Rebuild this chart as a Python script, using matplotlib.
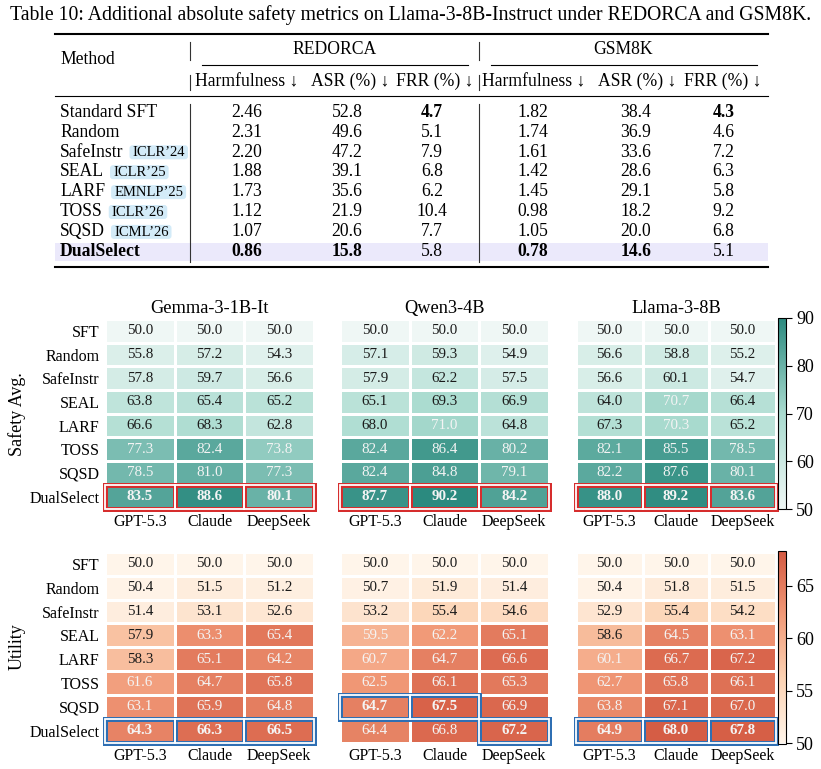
import numpy as np
import matplotlib
matplotlib.use("Agg")
import matplotlib.pyplot as plt
from matplotlib.colors import LinearSegmentedColormap
from matplotlib.patches import Rectangle, FancyBboxPatch

plt.rcParams['font.family'] = ['Liberation Serif', 'DejaVu Serif']

W, H = 821, 769

# ---------------- table data ----------------
table_caption = ("Table 10: Additional absolute safety metrics on Llama-3-8B-Instruct "
                 "under REDORCA and GSM8K.")
table_methods = ["Standard SFT", "Random", "SafeInstr", "SEAL", "LARF", "TOSS", "SQSD", "DualSelect"]
table_venues = ["", "", "ICLR’24", "ICLR’25", "EMNLP’25", "ICLR’26", "ICML’26", ""]
table_groups = ["REDORCA", "GSM8K"]
table_metrics = ["Harmfulness ↓", "ASR (%) ↓", "FRR (%) ↓"]
redorca_harm = [2.46, 2.31, 2.20, 1.88, 1.73, 1.12, 1.07, 0.86]
redorca_asr = [52.8, 49.6, 47.2, 39.1, 35.6, 21.9, 20.6, 15.8]
redorca_frr = [4.7, 5.1, 7.9, 6.8, 6.2, 10.4, 7.7, 5.8]
gsm_harm = [1.82, 1.74, 1.61, 1.42, 1.45, 0.98, 1.05, 0.78]
gsm_asr = [38.4, 36.9, 33.6, 28.6, 29.1, 18.2, 20.0, 14.6]
gsm_frr = [4.3, 4.6, 7.2, 6.3, 5.8, 9.2, 6.8, 5.1]

# ---------------- heatmap data ----------------
hm_methods = ["SFT", "Random", "SafeInstr", "SEAL", "LARF", "TOSS", "SQSD", "DualSelect"]
hm_judges = ["GPT-5.3", "Claude", "DeepSeek"]
hm_models = ["Gemma-3-1B-It", "Qwen3-4B", "Llama-3-8B"]

safety_gemma = [[50.0, 50.0, 50.0], [55.8, 57.2, 54.3], [57.8, 59.7, 56.6], [63.8, 65.4, 65.2],
                [66.6, 68.3, 62.8], [77.3, 82.4, 73.8], [78.5, 81.0, 77.3], [83.5, 88.6, 80.1]]
safety_qwen = [[50.0, 50.0, 50.0], [57.1, 59.3, 54.9], [57.9, 62.2, 57.5], [65.1, 69.3, 66.9],
               [68.0, 71.0, 64.8], [82.4, 86.4, 80.2], [82.4, 84.8, 79.1], [87.7, 90.2, 84.2]]
safety_llama = [[50.0, 50.0, 50.0], [56.6, 58.8, 55.2], [56.6, 60.1, 54.7], [64.0, 70.7, 66.4],
                [67.3, 70.3, 65.2], [82.1, 85.5, 78.5], [82.2, 87.6, 80.1], [88.0, 89.2, 83.6]]

utility_gemma = [[50.0, 50.0, 50.0], [50.4, 51.5, 51.2], [51.4, 53.1, 52.6], [57.9, 63.3, 65.4],
                 [58.3, 65.1, 64.2], [61.6, 64.7, 65.8], [63.1, 65.9, 64.8], [64.3, 66.3, 66.5]]
utility_qwen = [[50.0, 50.0, 50.0], [50.7, 51.9, 51.4], [53.2, 55.4, 54.6], [59.5, 62.2, 65.1],
                [60.7, 64.7, 66.6], [62.5, 66.1, 65.3], [64.7, 67.5, 66.9], [64.4, 66.8, 67.2]]
utility_llama = [[50.0, 50.0, 50.0], [50.4, 51.8, 51.5], [52.9, 55.4, 54.2], [58.6, 64.5, 63.1],
                 [60.1, 66.7, 67.2], [62.7, 65.8, 66.1], [63.8, 67.1, 67.0], [64.9, 68.0, 67.8]]

teal = LinearSegmentedColormap.from_list("teal", ["#eff7f5", "#a9dbcf", "#2b8a7f"])
peach = LinearSegmentedColormap.from_list("peach", ["#fff5ea", "#fcd3b4", "#f19a78", "#d45a42"])


def box(l, t, r, b):
    return [l / W, 1 - b / H, (r - l) / W, (b - t) / H]


fig = plt.figure(figsize=(W / 100, H / 100), dpi=100)

# ---------------- table (drawn in pixel coordinates) ----------------
tab = fig.add_axes([0, 0, 1, 1])
tab.set_xlim(0, W)
tab.set_ylim(H, 0)
tab.axis("off")

fs = 12.7
tab.text(410.5, 15, table_caption, ha="center", va="center", fontsize=14.2)

tab.plot([55, 767.5], [34.3, 34.3], color="black", lw=1.5)
tab.plot([55, 767.5], [96, 96], color="black", lw=0.8)
tab.plot([55, 767.5], [267.3, 267.3], color="black", lw=1.5)
tab.plot([201.7, 468.3], [65, 65], color="black", lw=0.8)
tab.plot([490.7, 756.7], [65, 65], color="black", lw=0.8)
for vx in [190, 479]:
    tab.plot([vx, vx], [41.7, 60], color="#333333", lw=0.8)
    tab.plot([vx, vx], [75, 90], color="#333333", lw=0.8)
    tab.plot([vx, vx], [104, 262], color="#333333", lw=0.8)

tab.add_patch(Rectangle((55, 243.3), 712.5, 17.8, fc="#ebe9fb", ec="none", zorder=0))

tab.text(60, 59.3, "Method", ha="left", va="center", fontsize=fs)
tab.text(335, 50, table_groups[0], ha="center", va="center", fontsize=fs)
tab.text(623, 50, table_groups[1], ha="center", va="center", fontsize=fs)
head_x = [247, 350, 435, 534, 637, 723]
for k, hx in enumerate(head_x):
    tab.text(hx, 81.7, table_metrics[k % 3], ha="center", va="center", fontsize=fs)

cols = [redorca_harm, redorca_asr, redorca_frr, gsm_harm, gsm_asr, gsm_frr]
fmts = ["{:.2f}", "{:.1f}", "{:.1f}", "{:.2f}", "{:.1f}", "{:.1f}"]
data_x = [247, 347, 432, 533, 636, 723.5]
renderer = fig.canvas.get_renderer()
for i, name in enumerate(table_methods):
    y = 112.3 + 19.9 * i
    weight = "bold" if name == "DualSelect" else "normal"
    t = tab.text(60, y, name, ha="left", va="center", fontsize=fs, fontweight=weight)
    if table_venues[i]:
        x_end = t.get_window_extent(renderer=renderer).x1
        vt = tab.text(x_end + 9, y + 0.5, table_venues[i], ha="left", va="center",
                      fontsize=10.5, zorder=3)
        vw = vt.get_window_extent(renderer=renderer).width
        tab.add_patch(FancyBboxPatch((x_end + 6, y - 6.8), vw + 6, 14,
                                     boxstyle="round,pad=0,rounding_size=3",
                                     fc="#d3ebf8", ec="none", zorder=2))
    for c, vals in enumerate(cols):
        bold = vals[i] == min(vals)
        tab.text(data_x[c], y, fmts[c].format(vals[i]), ha="center", va="center",
                 fontsize=fs, fontweight="bold" if bold else "normal")


# ---------------- heatmaps ----------------
def draw_heat(ax, vals, cmap, vmin, vmax, hl_color, show_rows, title=None):
    arr = np.array(vals)
    mesh = ax.pcolormesh(arr, cmap=cmap, vmin=vmin, vmax=vmax,
                         edgecolors="white", linewidth=1.0)
    ax.set_xlim(0, arr.shape[1])
    ax.set_ylim(arr.shape[0], 0)
    ax.set_xticks(np.arange(arr.shape[1]) + 0.5, hm_judges)
    ax.set_yticks(np.arange(arr.shape[0]) + 0.5, hm_methods if show_rows else [])
    ax.tick_params(length=0, labelsize=11.5, pad=4)
    for s in ax.spines.values():
        s.set_visible(False)
    if title:
        ax.set_title(title, fontsize=13.2, pad=4)
    mid = (vmin + vmax) / 2
    best = arr.argmax(axis=0)
    for i in range(arr.shape[0]):
        for j in range(arr.shape[1]):
            v = arr[i, j]
            ax.text(j + 0.5, i + 0.5, f"{v:.1f}", ha="center", va="center", fontsize=10.8,
                    color="#f4f4f4" if v > mid else "#1a1a1a",
                    fontweight="bold" if best[j] == i else "normal")
    for j, i in enumerate(best):
        ax.add_patch(Rectangle((j, i), 1, 1, fill=False, ec=hl_color, lw=3.6,
                               clip_on=False, zorder=4))
        ax.add_patch(Rectangle((j, i), 1, 1, fill=False, ec="white", lw=1.3,
                               clip_on=False, zorder=5))
    return mesh


col_px = [(105, 314), (340, 549), (576, 776)]
safety_sets = [safety_gemma, safety_qwen, safety_llama]
utility_sets = [utility_gemma, utility_qwen, utility_llama]

for k, (l, r) in enumerate(col_px):
    ax = fig.add_axes(box(l, 319, r, 508.5))
    m_s = draw_heat(ax, safety_sets[k], teal, 50, 90, "#d62d2d", k == 0, hm_models[k])
    ax2 = fig.add_axes(box(l, 552, r, 742.5))
    m_u = draw_heat(ax2, utility_sets[k], peach, 50, 68.3, "#2f6fb3", k == 0)

cax = fig.add_axes(box(778, 318, 785.5, 509))
cb = fig.colorbar(m_s, cax=cax, ticks=[50, 60, 70, 80, 90])
cb.outline.set_linewidth(0.8)
cax.tick_params(labelsize=13, length=4, width=0.8)

cax2 = fig.add_axes(box(778, 551, 785.5, 743.5))
cb2 = fig.colorbar(m_u, cax=cax2, ticks=[50, 55, 60, 65])
cb2.outline.set_linewidth(0.8)
cax2.tick_params(labelsize=13, length=4, width=0.8)

fig.text(17 / W, 1 - 413.7 / H, "Safety Avg.", rotation=90, ha="center", va="center", fontsize=13)
fig.text(17 / W, 1 - 647 / H, "Utility", rotation=90, ha="center", va="center", fontsize=13)

fig.savefig("out.png", dpi=100)
